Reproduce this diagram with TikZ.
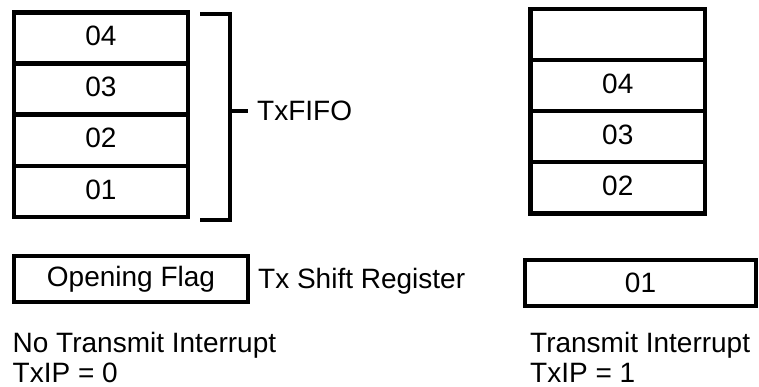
\documentclass[tikz,border=0pt]{standalone}
\usepackage{fontspec}
\setmainfont{Liberation Sans}
\usetikzlibrary{positioning}

\begin{document}
\begin{tikzpicture}[x=1pt,y=-1pt,
    every node/.style={font=\fontsize{28}{30}\selectfont},
    cell/.style={draw, line width=4.4pt, outer sep=0pt, inner sep=0pt,
                 minimum width=174.5pt, minimum height=51.1pt, text depth=4pt},
    reg/.style={draw, line width=4.4pt, outer sep=0pt, inner sep=0pt,
                minimum height=46.5pt},
    brace/.style={line width=4.4pt}]
    \useasboundingbox (0,0) rectangle (759,387);
    % TxFIFO before the interrupt
    \node[cell] (l4) at (101,38) {04};
    \node[cell, below=0pt of l4] (l3) {03};
    \node[cell, below=0pt of l3] (l2) {02};
    \node[cell, below=0pt of l2] (l1) {01};
    \draw[brace] (200,14) -| (230,220) -- (200,220);
    \coordinate (tick) at (230,111);
    \node[anchor=west, inner sep=9pt] (txfifo) at (248,111) {TxFIFO};
    \draw[brace] (tick) -- (txfifo.west);
    % TxFIFO after the interrupt
    \node[cell] (r0) at (617.75,34.5) {};
    \node[cell, below=0pt of r0] (r4) {04};
    \node[cell, below=0pt of r4] (r3) {03};
    \node[cell, below=0pt of r3] (r2) {02};
    % shift registers
    \node[reg, minimum width=234.5pt] (flag) at (131,279) {Opening Flag};
    \node[anchor=base west, inner sep=0pt] (shiftreg) at (258,288) {Tx Shift Register};
    \node[reg, minimum width=231pt] (r1) at (640.5,283) {01};
    % status
    \node[anchor=north west, align=left, inner sep=0pt] (noint) at (12.5,332)
        {No Transmit Interrupt\\TxIP = 0};
    \node[anchor=north west, align=left, inner sep=0pt] (int) at (530,332)
        {Transmit Interrupt\\TxIP = 1};
\end{tikzpicture}
\end{document}
